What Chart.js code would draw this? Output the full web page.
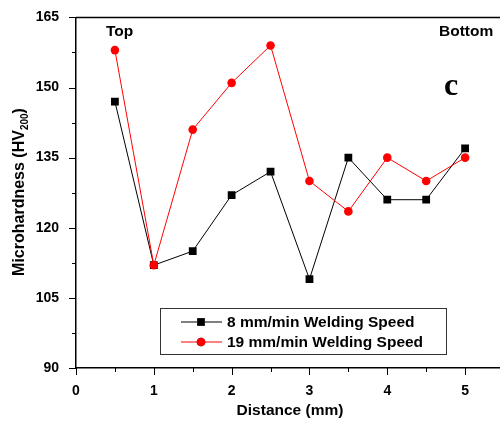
<!DOCTYPE html>
<html>
<head>
<meta charset="utf-8">
<script src="https://cdn.jsdelivr.net/npm/chart.js@4"></script>
<style>
  html, body { margin: 0; padding: 0; background: #fff; overflow: hidden; }
  #wrap { width: 510px; height: 423px; position: relative; }
</style>
</head>
<body>
<div id="wrap"><canvas id="c"></canvas></div>
<script>
var distance = [0.5, 1, 1.5, 2, 2.5, 3, 3.5, 4, 4.5, 5];
var speed8 = [147, 112, 115, 127, 132, 109, 135, 126, 126, 137];
var speed19 = [158, 112, 141, 151, 159, 130, 123.5, 135, 130, 135];
var xTicks = [0, 1, 2, 3, 4, 5];
var yTicks = [90, 105, 120, 135, 150, 165];
var seriesNames = ["8 mm/min Welding Speed", "19 mm/min Welding Speed"];

var FONT = "'Liberation Sans', Arial, sans-serif";

const toPoints = (ys) => ys.map((y, i) => ({x: distance[i], y: y}));

// ticks, frame, titles, labels and legend
const decor = {
    id: "decor",
    afterDraw(chart) {
        var ctx = chart.ctx;
        var area = chart.chartArea;
        var xs = chart.scales.x, ys = chart.scales.y;
        ctx.save();
        ctx.strokeStyle = "#000";
        ctx.lineWidth = 1.5;

        // top frame line
        ctx.beginPath();
        ctx.moveTo(area.left, area.top);
        ctx.lineTo(area.right, area.top);
        ctx.stroke();

        // x ticks (major + minor)
        ctx.lineWidth = 1;
        for (var v = 0; v <= 5.5; v += 0.5) {
            var px = Math.round(xs.getPixelForValue(v)) + 0.5;
            var len = (v % 1 === 0) ? 7 : 4;
            ctx.beginPath();
            ctx.moveTo(px, area.bottom);
            ctx.lineTo(px, area.bottom + len);
            ctx.stroke();
        }
        // y ticks
        for (var w = 90; w <= 165; w += 7.5) {
            var py = Math.round(ys.getPixelForValue(w)) + 0.5;
            var l2 = ((w - 90) % 15 === 0) ? 7 : 4;
            ctx.beginPath();
            ctx.moveTo(area.left, py);
            ctx.lineTo(area.left - l2, py);
            ctx.stroke();
        }

        // axis titles
        ctx.fillStyle = "#000";
        ctx.font = "bold 15.5px " + FONT;
        ctx.textAlign = "center";
        ctx.textBaseline = "middle";
        ctx.fillText("Distance (mm)", 290, 411);

        ctx.save();
        ctx.translate(20, 192);
        ctx.rotate(-Math.PI / 2);
        var main = "Microhardness (HV";
        ctx.font = "bold 16px " + FONT;
        var w1 = ctx.measureText(main).width;
        ctx.font = "bold 10px " + FONT;
        var w2 = ctx.measureText("200").width;
        ctx.font = "bold 16px " + FONT;
        var w3 = ctx.measureText(")").width;
        var x0 = -(w1 + w2 + w3) / 2;
        ctx.textAlign = "left";
        ctx.fillText(main, x0, 0);
        ctx.font = "bold 10px " + FONT;
        ctx.fillText("200", x0 + w1, 5);
        ctx.font = "bold 16px " + FONT;
        ctx.fillText(")", x0 + w1 + w2, 0);
        ctx.restore();

        // annotations
        ctx.font = "bold 15.5px " + FONT;
        ctx.textAlign = "left";
        ctx.fillText("Top", 106, 32);
        ctx.fillText("Bottom", 439, 32);
        ctx.font = "bold 32px 'Liberation Serif', 'Times New Roman', serif";
        ctx.fillText("c", 444, 87);

        // legend
        var bx = 160.5, by = 308.5, bw = 286, bh = 46;
        ctx.fillStyle = "#fff";
        ctx.fillRect(bx, by, bw, bh);
        ctx.strokeStyle = "#333";
        ctx.lineWidth = 1;
        ctx.strokeRect(bx, by, bw, bh);
        chart.data.datasets.forEach((ds, i) => {
            var ly = 322 + i * 20;
            ctx.strokeStyle = ds.borderColor;
            ctx.lineWidth = 1;
            ctx.beginPath();
            ctx.moveTo(181, ly);
            ctx.lineTo(222, ly);
            ctx.stroke();
            Chart.helpers.drawPoint(ctx, {
                pointStyle: ds.pointStyle,
                radius: ds.pointRadius,
                borderWidth: 0
            }, 201, ly);
            ctx.fillStyle = ds.pointBackgroundColor;
            ctx.fill();
            ctx.fillStyle = "#000";
            ctx.font = "bold 15.5px " + FONT;
            ctx.textAlign = "left";
            ctx.fillText(seriesNames[i], 227, ly + 1);
        });
        ctx.restore();
    }
};

new Chart("c", {
    type: "line",
    data: {
        datasets: [
            {
                label: seriesNames[0],
                data: toPoints(speed8),
                borderColor: "#000000",
                backgroundColor: "#000000",
                pointBackgroundColor: "#000000",
                pointBorderColor: "#000000",
                pointStyle: "rect",
                pointRadius: 5.5,
                pointBorderWidth: 0,
                borderWidth: 1,
                order: 1
            },
            {
                label: seriesNames[1],
                data: toPoints(speed19),
                borderColor: "#ff0000",
                backgroundColor: "#ff0000",
                pointBackgroundColor: "#ff0000",
                pointBorderColor: "#ff0000",
                pointStyle: "circle",
                pointRadius: 4.3,
                pointBorderWidth: 0,
                borderWidth: 1,
                order: 0
            }
        ]
    },
    options: {
        responsive: true,
        maintainAspectRatio: false,
        animation: false,
        layout: { padding: { top: 16, right: 6, left: 0, bottom: 0 } },
        plugins: {
            legend: { display: false },
            tooltip: { enabled: false }
        },
        scales: {
            x: {
                type: "linear",
                min: 0,
                max: 5.5,
                afterBuildTicks: (s) => { s.ticks = xTicks.map(v => ({value: v})); },
                afterFit: (s) => { s.height = 55; },
                grid: { display: false },
                border: { display: true, color: "#000", width: 1.5 },
                ticks: {
                    color: "#000",
                    padding: 7,
                    maxRotation: 0,
                    font: { family: FONT, size: 14, weight: "bold" }
                }
            },
            y: {
                min: 90,
                max: 165,
                afterBuildTicks: (s) => { s.ticks = yTicks.map(v => ({value: v})); },
                afterFit: (s) => { s.width = 76; },
                grid: { display: false },
                border: { display: true, color: "#000", width: 1.5 },
                ticks: {
                    color: "#000",
                    padding: 9,
                    font: { family: FONT, size: 14, weight: "bold" }
                }
            }
        }
    },
    plugins: [decor]
});
</script>
</body>
</html>
